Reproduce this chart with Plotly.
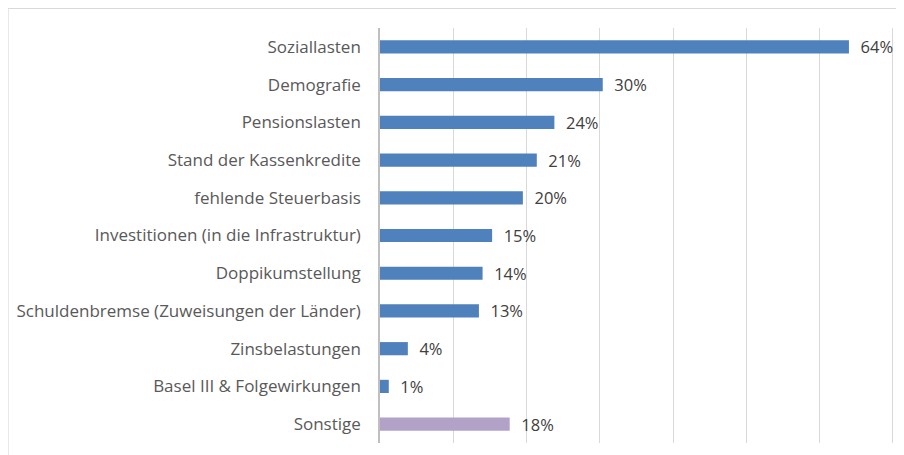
import plotly.graph_objects as go

categories = [
    "Soziallasten",
    "Demografie",
    "Pensionslasten",
    "Stand der Kassenkredite",
    "fehlende Steuerbasis",
    "Investitionen (in die Infrastruktur)",
    "Doppikumstellung",
    "Schuldenbremse (Zuweisungen der Länder)",
    "Zinsbelastungen",
    "Basel III & Folgewirkungen",
    "Sonstige",
]
values = [64.0, 30.4, 23.8, 21.4, 19.5, 15.3, 14.0, 13.5, 3.8, 1.2, 17.7]
value_labels = ["64%", "30%", "24%", "21%", "20%", "15%", "14%", "13%", "4%", "1%", "18%"]
bar_colors = ["#4F81BD"] * 10 + ["#B3A2C7"]

# page body has an 8px margin; figure sized to fill the rest of the window
W, H = 896, 447
L, R, T, B = 372, 10, 20, 12
pw, ph = W - L - R, H - T - B

fig = go.Figure(go.Bar(
    y=categories,
    x=values,
    orientation="h",
    width=0.35,
    marker=dict(color=bar_colors, line=dict(width=0)),
    text=["\u00a0\u00a0" + s for s in value_labels],
    textposition="outside",
    constraintext="none",
    textangle=0,
    textfont=dict(family="Open Sans", size=16.5, color="#404040"),
    cliponaxis=False,
    hoverinfo="skip",
))

fig.update_layout(
    width=W, height=H,
    margin=dict(l=L, r=R, t=T, b=B),
    paper_bgcolor="white",
    plot_bgcolor="white",
    showlegend=False,
    font=dict(family="Open Sans", size=17, color="#595959"),
    xaxis=dict(
        range=[0, 70.15], dtick=10, showticklabels=False,
        showgrid=True, gridcolor="#D9D9D9", gridwidth=1,
        zeroline=False, showline=False, fixedrange=True,
    ),
    yaxis=dict(
        autorange="reversed", showgrid=False, zeroline=False,
        showline=True, linecolor="#BFBFBF", linewidth=1.5,
        ticks="", ticklabelstandoff=14, automargin=False,
        tickfont=dict(family="Open Sans", size=17, color="#595959"),
    ),
    shapes=[dict(
        type="rect", xref="paper", yref="paper",
        x0=(0 - L) / pw, x1=(W + 10 - L) / pw,
        y0=-(30) / ph, y1=1 + (T - 0.5) / ph,
        line=dict(color="#D9D9D9", width=1.2), fillcolor="rgba(0,0,0,0)",
        layer="below",
    )],
)

fig.write_html("out.html")
